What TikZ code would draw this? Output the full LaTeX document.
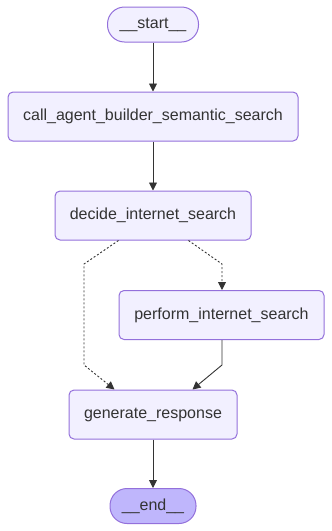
\documentclass[tikz,border=0pt]{standalone}
\usepackage{fontspec}
\setmainfont{Liberation Sans}
\usetikzlibrary{arrows.meta}
\definecolor{nodefill}{HTML}{F2F0FF}
\definecolor{nodeline}{HTML}{9370DB}
\definecolor{endfill}{HTML}{BFB6FC}
\definecolor{txt}{HTML}{333333}
\begin{document}
\begin{tikzpicture}[x=1pt,y=-1pt,
  box/.style={draw=nodeline,fill=nodefill,line width=1pt,rounded corners=5pt,
    text=txt,font=\fontsize{16}{19}\selectfont,inner sep=0pt,align=center},
  pill/.style={box,rounded corners=17pt},
  edge/.style={draw=txt,line width=0.9pt,-{Triangle[length=8pt,width=8pt]}},
  dedge/.style={edge,dash pattern=on 2pt off 2pt}]
\useasboundingbox (0,0) rectangle (332,531);
\node[pill,minimum width=91pt,minimum height=35pt] (start) at (153,24.5) {\_\_start\_\_};
\node[box,minimum width=290pt,minimum height=49pt] (call) at (153,116.5) {call\_agent\_builder\_semantic\_search};
\node[box,minimum width=196pt,minimum height=49pt] (decide) at (153,215.5) {decide\_internet\_search};
\node[box,minimum width=205pt,minimum height=49pt] (perform) at (221.5,315) {perform\_internet\_search};
\node[box,minimum width=168pt,minimum height=49pt] (gen) at (153,414.5) {generate\_response};
\node[pill,fill=endfill,minimum width=86pt,minimum height=35pt] (end) at (153,506) {\_\_end\_\_};
\coordinate (l1) at (84,264);
\coordinate (l2) at (84,365);
\coordinate (r1) at (222,264);
\coordinate (p1) at (222,365);
\draw[edge] (start) -- (call);
\draw[edge] (call) -- (decide);
\draw[dedge] ([xshift=64pt]decide.south west) -- (l1) -- (l2) -- ([xshift=46pt]gen.north west);
\draw[dedge] ([xshift=-63pt]decide.south east) -- (r1) -- (r1 |- perform.north);
\draw[edge] (p1 |- perform.south) -- (p1) -- ([xshift=-45pt]gen.north east);
\draw[edge] (gen) -- (end);
\end{tikzpicture}
\end{document}
